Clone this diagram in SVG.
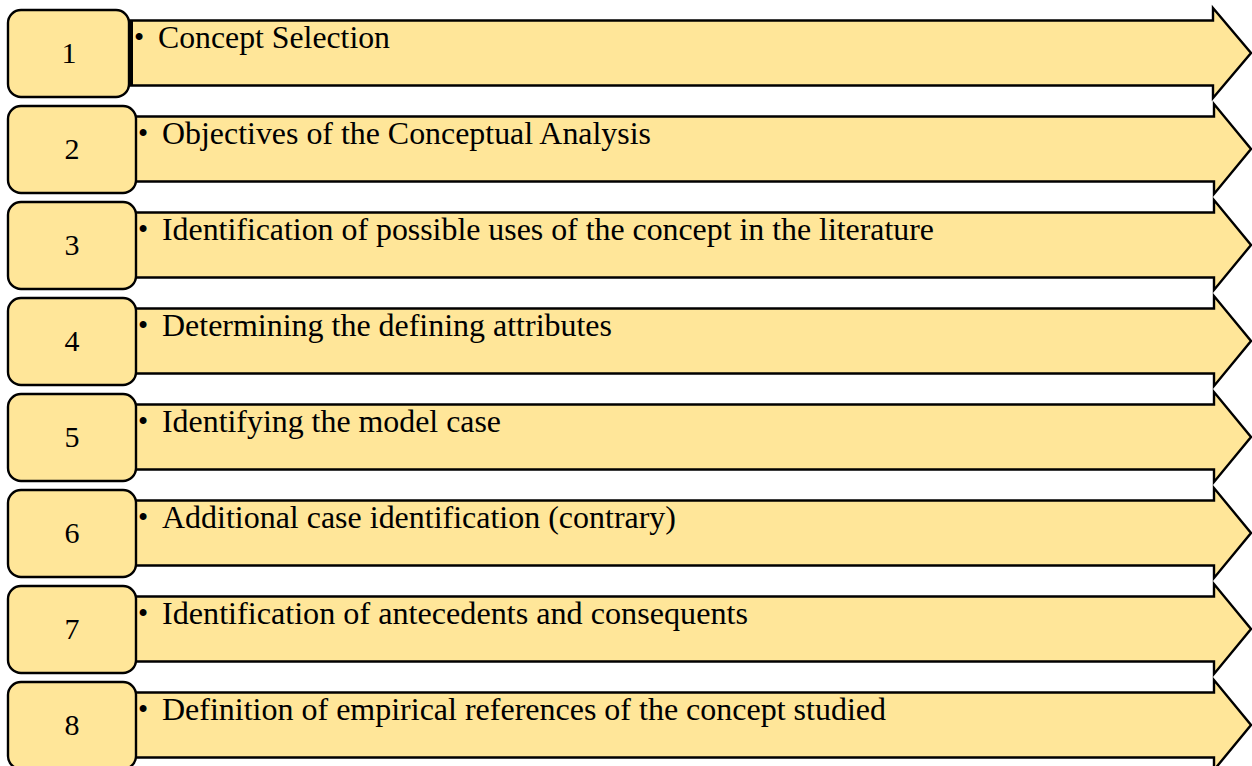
<svg xmlns="http://www.w3.org/2000/svg" width="1252" height="766" viewBox="0 0 1252 766">
<style>
.arrow{fill:#FFE699;stroke:#000;stroke-width:2.4;stroke-linejoin:miter}
.box{fill:#FFE699;stroke:#000;stroke-width:2.4}
.num{font-family:"Liberation Serif","Times New Roman",serif;font-size:30px;fill:#000;text-anchor:middle}
.lbl{font-family:"Liberation Serif","Times New Roman",serif;font-size:30.5px;fill:#000}
.bul{font-family:"Liberation Serif","Times New Roman",serif;font-size:29px;fill:#000}
</style>
<g id="connectors"></g>
<g id="node1">
<path class="arrow" d="M130 20.5 H1213 V8 L1251 53 L1213 98 V85.5 H130 Z"/>
<rect x="129" y="20" width="4" height="66" fill="#000"/>
<rect class="box" x="8" y="10" width="121" height="87" rx="13"/>
<text class="num" x="69" y="63">1</text>
<text class="bul" x="134" y="47">•</text>
<text class="lbl" x="158" y="48" textLength="232" lengthAdjust="spacingAndGlyphs">Concept Selection</text>
</g>
<g id="node2">
<path class="arrow" d="M134 116.5 H1214 V104 L1251 149 L1214 194 V181.5 H134 Z"/>
<rect class="box" x="8" y="106" width="128" height="87" rx="13"/>
<text class="num" x="72" y="159">2</text>
<text class="bul" x="138" y="143">•</text>
<text class="lbl" x="162" y="144" textLength="489" lengthAdjust="spacingAndGlyphs">Objectives of the Conceptual Analysis</text>
</g>
<g id="node3">
<path class="arrow" d="M134 212.5 H1214 V200 L1251 245 L1214 290 V277.5 H134 Z"/>
<rect class="box" x="8" y="202" width="128" height="87" rx="13"/>
<text class="num" x="72" y="255">3</text>
<text class="bul" x="138" y="239">•</text>
<text class="lbl" x="162" y="240" textLength="772" lengthAdjust="spacingAndGlyphs">Identification of possible uses of the concept in the literature</text>
</g>
<g id="node4">
<path class="arrow" d="M134 308.5 H1214 V296 L1251 341 L1214 386 V373.5 H134 Z"/>
<rect class="box" x="8" y="298" width="128" height="87" rx="13"/>
<text class="num" x="72" y="351">4</text>
<text class="bul" x="138" y="335">•</text>
<text class="lbl" x="162" y="336" textLength="450" lengthAdjust="spacingAndGlyphs">Determining the defining attributes</text>
</g>
<g id="node5">
<path class="arrow" d="M134 404.5 H1214 V392 L1251 437 L1214 482 V469.5 H134 Z"/>
<rect class="box" x="8" y="394" width="128" height="87" rx="13"/>
<text class="num" x="72" y="447">5</text>
<text class="bul" x="138" y="431">•</text>
<text class="lbl" x="162" y="432" textLength="339" lengthAdjust="spacingAndGlyphs">Identifying the model case</text>
</g>
<g id="node6">
<path class="arrow" d="M134 500.5 H1214 V488 L1251 533 L1214 578 V565.5 H134 Z"/>
<rect class="box" x="8" y="490" width="128" height="87" rx="13"/>
<text class="num" x="72" y="543">6</text>
<text class="bul" x="138" y="527">•</text>
<text class="lbl" x="162" y="528" textLength="514" lengthAdjust="spacingAndGlyphs">Additional case identification (contrary)</text>
</g>
<g id="node7">
<path class="arrow" d="M134 596.5 H1214 V584 L1251 629 L1214 674 V661.5 H134 Z"/>
<rect class="box" x="8" y="586" width="128" height="87" rx="13"/>
<text class="num" x="72" y="639">7</text>
<text class="bul" x="138" y="623">•</text>
<text class="lbl" x="162" y="624" textLength="586" lengthAdjust="spacingAndGlyphs">Identification of antecedents and consequents</text>
</g>
<g id="node8">
<path class="arrow" d="M134 692.5 H1214 V680 L1251 725 L1214 770 V757.5 H134 Z"/>
<rect class="box" x="8" y="682" width="128" height="87" rx="13"/>
<text class="num" x="72" y="735">8</text>
<text class="bul" x="138" y="719">•</text>
<text class="lbl" x="162" y="720" textLength="724" lengthAdjust="spacingAndGlyphs">Definition of empirical references of the concept studied</text>
</g>
</svg>
